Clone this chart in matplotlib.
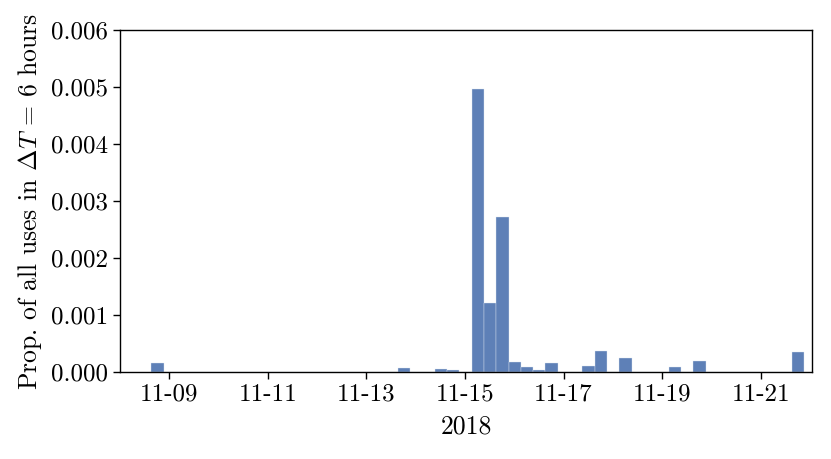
import numpy as np
import pandas as pd
import matplotlib
matplotlib.use("Agg")
import matplotlib.pyplot as plt
import matplotlib.dates as mdates

plt.rcParams['font.family'] = 'cmr10'
plt.rcParams['mathtext.fontset'] = 'cm'
plt.rcParams['axes.formatter.use_mathtext'] = True

# 6 hour bins, first bin starts 2018-11-08 15:13
bin_start = "2018-11-08 15:13"
bin_width_hours = 6
# proportion per bin (x 1e-3)
props_e3 = [0.165, 0, 0, 0, 0, 0, 0, 0, 0, 0,
            0, 0, 0, 0, 0, 0, 0, 0, 0, 0,
            0.07, 0, 0, 0.06, 0.035, 0, 4.96, 1.205, 2.72, 0.175,
            0.093, 0.04, 0.15, 0, 0, 0.10, 0.37, 0, 0.246, 0,
            0, 0, 0.08, 0, 0.19, 0, 0, 0, 0, 0,
            0, 0, 0.35]
x_range = ("2018-11-08 00:00", "2018-11-22 01:00")
yticks = [0.000, 0.001, 0.002, 0.003, 0.004, 0.005, 0.006]

props = np.array(props_e3) * 1e-3
edges = pd.date_range(bin_start, periods=len(props) + 1, freq=f"{bin_width_hours}h")
edges_num = mdates.date2num(edges.to_pydatetime())

fig = plt.figure(figsize=(8.31, 4.59), dpi=100)
ax = fig.add_axes([0.1444, 0.1895, 0.8327, 0.7451])

ax.hist(edges_num[:-1], bins=edges_num, weights=props, color="#4c72b0",
        alpha=0.9, edgecolor="#dfe6f1", linewidth=0.3)

ax.set_xlim(mdates.date2num(pd.Timestamp(x_range[0])), mdates.date2num(pd.Timestamp(x_range[1])))
ax.set_ylim(0, 0.006)
ax.set_yticks(yticks)
ax.yaxis.set_major_formatter(matplotlib.ticker.FormatStrFormatter('%.3f'))
ax.xaxis.set_major_locator(mdates.DayLocator(bymonthday=[9, 11, 13, 15, 17, 19, 21]))
ax.xaxis.set_major_formatter(mdates.DateFormatter('%m-%d'))

ax.tick_params(labelsize=18, direction='out', length=5, width=1)
ax.set_xlabel("2018", fontsize=18.5, labelpad=6)
ax.set_ylabel(r"Prop. of all uses in $\Delta T$ = 6 hours", fontsize=18.5, labelpad=5)
for s in ax.spines.values():
    s.set_color("black")
    s.set_linewidth(1)

fig.savefig("out.png", dpi=100)
